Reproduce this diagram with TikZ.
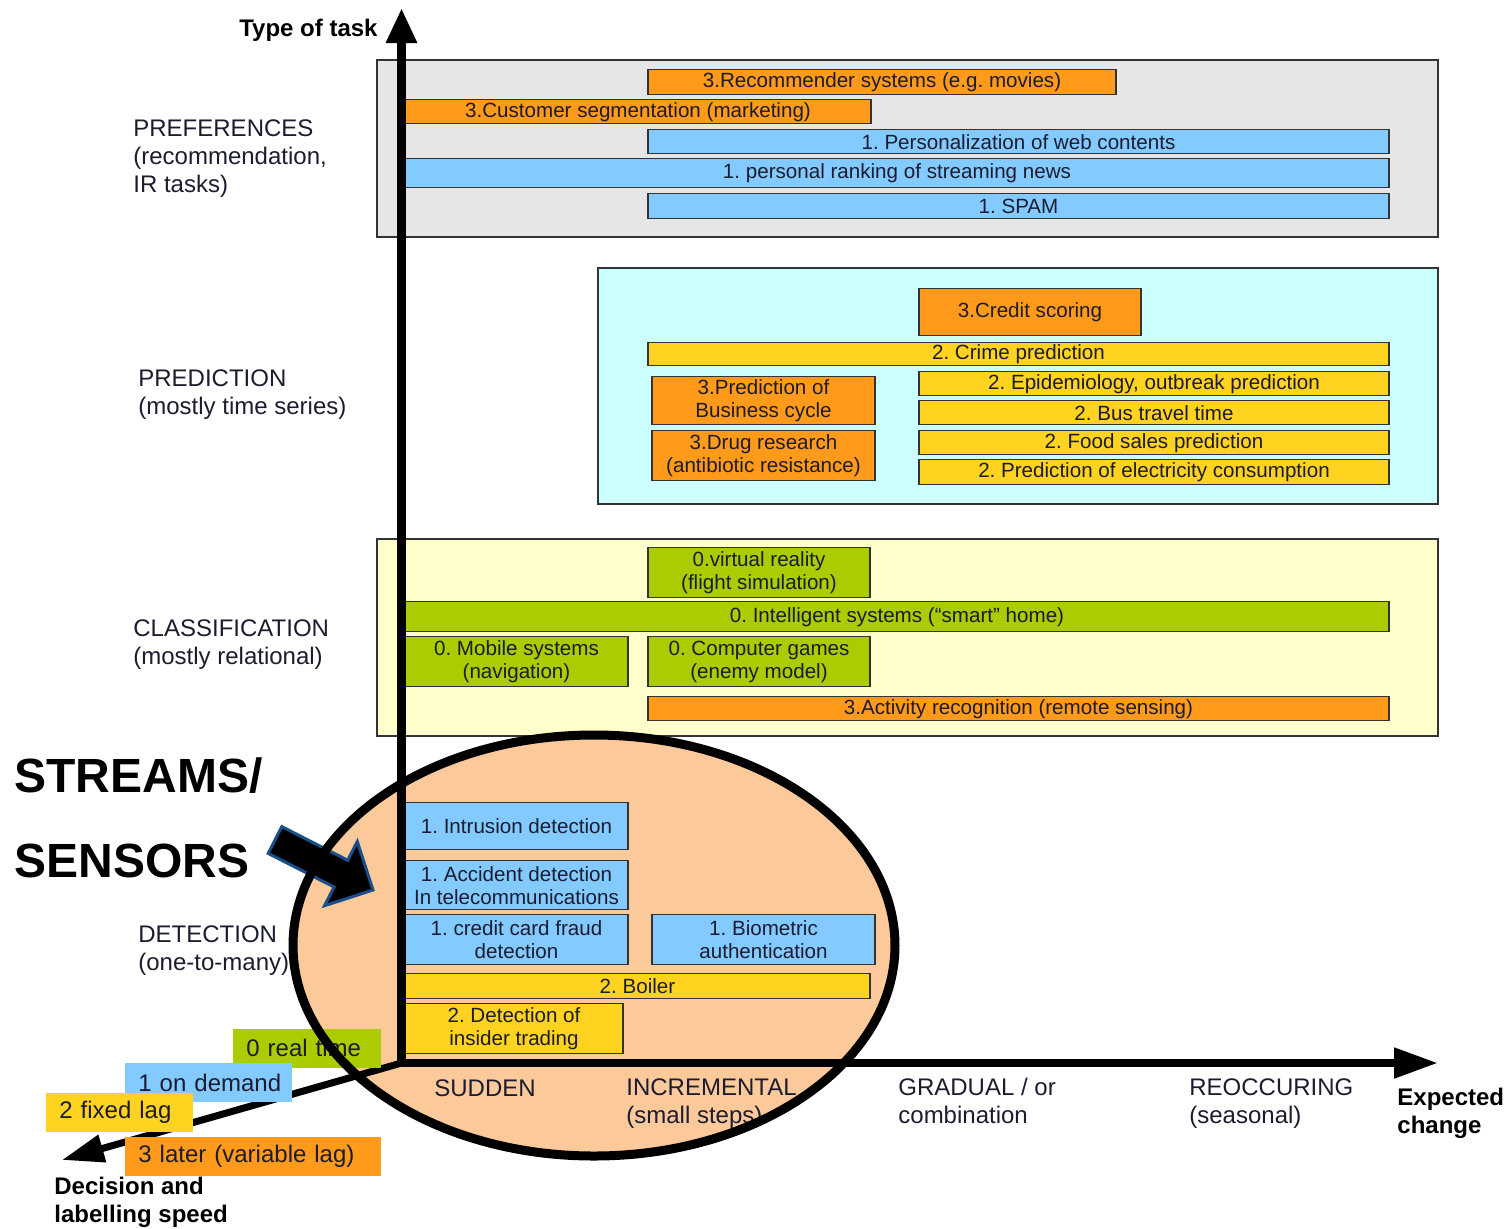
\documentclass[tikz,border=0pt]{standalone}
\usepackage{fontspec}
\setmainfont{Liberation Sans}
\usetikzlibrary{arrows.meta}
\frenchspacing

\definecolor{orangebox}{HTML}{FF9A1A}
\definecolor{bluebox}{HTML}{82CAFF}
\definecolor{yellowbox}{HTML}{FFD320}
\definecolor{greenbox}{HTML}{AACC00}
\definecolor{peach}{HTML}{FCC99B}
\definecolor{panelgray}{HTML}{E6E6E6}
\definecolor{panelcyan}{HTML}{CCFFFF}
\definecolor{panelyellow}{HTML}{FFFFCC}
\definecolor{ink}{HTML}{1C1C30}
\definecolor{edge}{HTML}{333333}
\definecolor{arrowrim}{HTML}{1A4F8C}

\tikzset{
  taskbx/.style={draw=edge, line width=0.65pt, inner sep=0pt, align=center,
    text=ink, font=\fontsize{10.3}{11.6}\selectfont},
  panel/.style={draw=edge, line width=0.8pt},
  catlabel/.style={anchor=base west, align=left, inner sep=0pt, text=ink,
    font=\fontsize{12}{13.8}\selectfont},
  boldlabel/.style={inner sep=0pt, text=black, align=left,
    font=\fontsize{12}{13.6}\selectfont\bfseries},
  speedbx/.style={anchor=west, inner ysep=0pt, inner xsep=6.5pt, align=left,
    minimum height=19.5pt, text=ink, font=\fontsize{12}{14}\selectfont},
  axisline/.style={line width=#1, line cap=butt},
}

% task box given by its corners (in pixel-like units) and its text
\newcommand{\taskbox}[7]{%
  \node[taskbx, fill=#2, minimum width={(#5-#3)*0.5pt},
        minimum height={(#6-#4)*0.5pt}] (#1) at ({(#3+#5)/2},{(#4+#6)/2+0.8}) {#7};}

\begin{document}
\begin{tikzpicture}[x=0.5pt, y=-0.5pt]
\useasboundingbox (0,0) rectangle (1512,1228);

% category panels
\path[panel, fill=panelgray]   (377,60)  rectangle (1438,237);
\path[panel, fill=panelcyan]   (598,268) rectangle (1438,504);
\path[panel, fill=panelyellow] (377,539) rectangle (1438,736);

% highlighted streams/sensors region
\fill[peach] (594,945.5) ellipse [x radius=301, y radius=210.5];

% axis end points
\coordinate (O)     at (401.5,1063);
\coordinate (Ybot)  at (401.5,1067);
\coordinate (Ytip)  at (401.5,8);
\coordinate (Xbeg)  at (397,1063);
\coordinate (Xtip)  at (1438,1063);
\coordinate (Dtip)  at (62,1160);

% decision / labelling speed axis
\draw[axisline=3.5pt, -{Triangle[length=21pt,width=13.5pt]}] (O) -- (Dtip);

% speed levels
\node[speedbx, fill=greenbox,  text width=61pt]   (rt) at (233,1048)   {\mbox{0 real time}};
\node[speedbx, fill=bluebox,   text width=70.5pt] (od) at (125,1082.5) {\mbox{1 on demand}};
\node[speedbx, fill=yellowbox, text width=60.5pt] (fl) at (46,1112.5)  {\mbox{2 fixed lag}};
\node[speedbx, fill=orangebox, text width=115pt]  (vl) at (125,1156.5) {\mbox{3 later (variable lag)}};

% PREFERENCES
\taskbox{recsys}{orangebox}{648}{69}{1116}{94}{3.Recommender systems (e.g. movies)}
\taskbox{custseg}{orangebox}{405}{99}{871}{123}{3.Customer segmentation (marketing)}
\taskbox{webpers}{bluebox}{648}{129}{1389}{153}{1. Personalization of web contents}
\taskbox{newsrank}{bluebox}{405}{158}{1389}{187}{1. personal ranking of streaming news}
\taskbox{spam}{bluebox}{648}{193}{1389}{218}{1. SPAM}

% PREDICTION
\taskbox{credit}{orangebox}{919}{288}{1141}{335}{3.Credit scoring}
\taskbox{crime}{yellowbox}{648}{342}{1389}{365}{2. Crime prediction}
\taskbox{business}{orangebox}{652}{376}{875}{424}{3.Prediction of\\Business cycle}
\taskbox{drug}{orangebox}{652}{430}{875}{480}{3.Drug research\\(antibiotic resistance)}
\taskbox{epidem}{yellowbox}{919}{371}{1389}{395}{2. Epidemiology, outbreak prediction}
\taskbox{bus}{yellowbox}{919}{400}{1389}{424}{2. Bus travel time}
\taskbox{food}{yellowbox}{919}{430}{1389}{454}{2. Food sales prediction}
\taskbox{elec}{yellowbox}{919}{459}{1389}{484}{2. Prediction of electricity consumption}

% CLASSIFICATION
\taskbox{vr}{greenbox}{648}{547}{870}{597}{0.virtual reality\\(flight simulation)}
\taskbox{smart}{greenbox}{405}{601}{1389}{631}{0. Intelligent systems (“smart” home)}
\taskbox{mobile}{greenbox}{405}{636}{628}{686}{0. Mobile systems\\(navigation)}
\taskbox{games}{greenbox}{648}{636}{870}{686}{0. Computer games\\(enemy model)}
\taskbox{activity}{orangebox}{648}{696}{1389}{720}{3.Activity recognition (remote sensing)}

% DETECTION
\taskbox{intrusion}{bluebox}{405}{802}{628}{849}{1. Intrusion detection}
\taskbox{accident}{bluebox}{405}{860}{628}{909}{1. Accident detection\\In telecommunications}
\taskbox{fraud}{bluebox}{405}{914}{628}{964}{1. credit card fraud\\detection}
\taskbox{biometric}{bluebox}{652}{914}{875}{964}{1. Biometric\\authentication}
\taskbox{boiler}{yellowbox}{405}{973}{870}{998}{2. Boiler}
\taskbox{insider}{yellowbox}{405}{1003}{623}{1053}{2. Detection of\\insider trading}

% type-of-task and expected-change axes
\draw[axisline=4.5pt, -{Triangle[length=17.5pt,width=14.5pt]}] (Ybot) -- (Ytip);
\draw[axisline=4pt, -{Triangle[length=22pt,width=14.5pt]}] (Xbeg) -- (Xtip);

% category labels (anchored at the baseline of their last line)
\node[catlabel] (pref)  at (133,192) {PREFERENCES\\(recommendation,\\IR tasks)};
\node[catlabel] (pred)  at (138,414) {PREDICTION\\(mostly time series)};
\node[catlabel] (class) at (133,664) {CLASSIFICATION\\(mostly relational)};
\node[catlabel] (detec) at (138,970) {DETECTION\\(one-to-many)};

% kinds of change
\node[catlabel] (sudden)  at (434,1096) {SUDDEN};
\node[catlabel] (increm)  at (626,1123) {INCREMENTAL\\(small steps)};
\node[catlabel] (gradual) at (898,1123) {GRADUAL / or\\combination};
\node[catlabel] (reocc)   at (1189,1123) {REOCCURING\\(seasonal)};

% axis titles
\node[boldlabel, anchor=base east] (ytitle) at (378,36) {Type of task};
\node[boldlabel, anchor=base west] (xtitle) at (1397,1133) {Expected\\change};
\node[boldlabel, anchor=base west] (dtitle) at (54,1222) {Decision and\\labelling speed};

% streams / sensors callout
\node[anchor=base west, inner sep=0pt, font=\fontsize{24}{28}\selectfont\bfseries] (streams) at (14,792) {STREAMS/};
\node[anchor=base west, inner sep=0pt, font=\fontsize{24}{28}\selectfont\bfseries] (sensors) at (14,877) {SENSORS};
\draw[fill=black, draw=arrowrim, line width=1.5pt, line join=miter]
  (281.8,826.6) -- (347.7,860.2) -- (357.3,841.5) -- (373,890) --
  (324.5,905.7) -- (334.1,887.0) -- (268.2,853.4) -- cycle;

% outline of the streams/sensors region
\draw[line width=4.5pt] (594,945.5) ellipse [x radius=301, y radius=210.5];
\end{tikzpicture}
\end{document}
